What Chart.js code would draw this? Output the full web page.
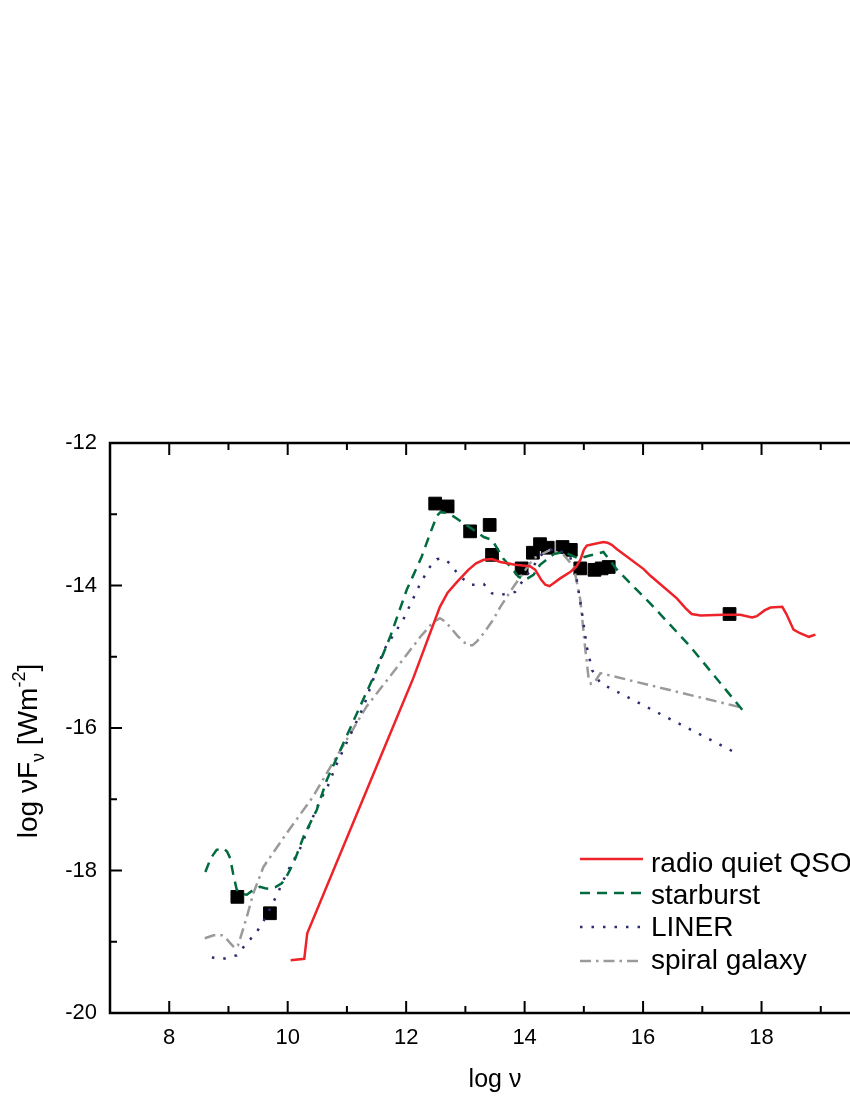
<!DOCTYPE html>
<html>
<head>
<meta charset="utf-8">
<script src="https://cdn.jsdelivr.net/npm/chart.js@4/dist/chart.umd.min.js"></script>
<style>
  html, body { margin: 0; padding: 0; background: #fff; overflow: hidden; }
  #wrap { width: 900px; height: 1100px; }
</style>
</head>
<body>
<div id="wrap"><canvas id="sed" width="900" height="1100"></canvas></div>
<script>
const FONT = "'Liberation Sans', Arial, sans-serif";

// radio quiet QSO
const qsoX = [10.05, 10.28, 10.33, 11.67, 12.12, 12.57, 12.70, 12.86, 13.05, 13.18, 13.31, 13.45, 13.59, 13.84, 14.09, 14.18, 14.28, 14.35, 14.42, 14.50, 14.60, 14.77, 14.87, 14.94, 15.00, 15.05, 15.15, 15.33, 15.40, 15.47, 15.56, 16.01, 16.12, 16.57, 16.72, 16.82, 16.97, 17.36, 17.64, 17.84, 17.92, 18.05, 18.15, 18.35, 18.42, 18.54, 18.65, 18.80, 18.91];
const qsoY = [-19.26, -19.24, -18.88, -16.20, -15.30, -14.30, -14.10, -13.95, -13.78, -13.69, -13.64, -13.63, -13.67, -13.71, -13.73, -13.78, -13.92, -13.99, -14.01, -13.96, -13.90, -13.81, -13.74, -13.64, -13.50, -13.44, -13.42, -13.39, -13.40, -13.43, -13.49, -13.77, -13.86, -14.18, -14.32, -14.40, -14.42, -14.41, -14.41, -14.45, -14.43, -14.35, -14.31, -14.30, -14.40, -14.62, -14.67, -14.72, -14.69];

// starburst
const sbX = [8.61, 8.70, 8.80, 8.92, 8.98, 9.03, 9.08, 9.14, 9.22, 9.31, 9.42, 9.53, 9.62, 9.70, 9.80, 9.90, 9.97, 10.04, 10.13, 10.27, 10.49, 10.66, 11.22, 11.50, 11.73, 12.01, 12.26, 12.40, 12.52, 12.58, 12.66, 12.80, 13.05, 13.31, 13.45, 13.64, 13.90, 14.01, 14.15, 14.26, 14.49, 14.66, 14.91, 15.10, 15.33, 15.56, 16.12, 16.80, 17.70];
const sbY = [-18.02, -17.83, -17.71, -17.69, -17.74, -17.83, -18.05, -18.27, -18.33, -18.34, -18.27, -18.23, -18.25, -18.26, -18.23, -18.18, -18.10, -17.99, -17.83, -17.52, -17.15, -16.73, -15.70, -15.19, -14.72, -14.06, -13.60, -13.28, -13.02, -12.97, -12.98, -13.03, -13.17, -13.32, -13.36, -13.62, -13.88, -13.92, -13.85, -13.71, -13.56, -13.53, -13.62, -13.58, -13.53, -13.78, -14.25, -14.86, -15.77];

// LINER
const linerX = [8.72, 8.91, 9.14, 9.31, 9.48, 9.62, 9.82, 9.98, 10.21, 10.38, 10.55, 10.66, 10.83, 11.28, 11.62, 11.95, 12.24, 12.40, 12.52, 12.62, 12.74, 12.91, 13.11, 13.31, 13.45, 13.61, 13.84, 13.98, 14.12, 14.32, 14.54, 14.77, 14.88, 14.97, 15.05, 15.14, 15.28, 17.59];
const linerY = [-19.22, -19.24, -19.19, -19.02, -18.86, -18.67, -18.34, -18.04, -17.69, -17.34, -17.01, -16.85, -16.50, -15.70, -14.91, -14.48, -13.97, -13.74, -13.63, -13.62, -13.69, -13.88, -13.99, -13.98, -14.11, -14.13, -14.09, -13.92, -13.76, -13.53, -13.48, -13.60, -13.92, -14.39, -14.86, -15.19, -15.37, -16.36];

// spiral galaxy
const spX = [8.60, 8.75, 8.89, 8.96, 9.03, 9.11, 9.16, 9.20, 9.31, 9.42, 9.59, 9.98, 10.43, 10.77, 11.33, 11.90, 12.24, 12.45, 12.57, 12.65, 12.74, 12.87, 12.97, 13.05, 13.12, 13.20, 13.31, 13.47, 13.59, 13.81, 14.15, 14.43, 14.66, 14.83, 14.94, 15.02, 15.08, 15.12, 15.18, 15.28, 17.70];
const spY = [-18.95, -18.91, -18.91, -18.95, -19.02, -19.09, -19.05, -18.95, -18.65, -18.32, -17.95, -17.48, -16.96, -16.48, -15.70, -15.09, -14.72, -14.52, -14.46, -14.50, -14.58, -14.71, -14.79, -14.84, -14.84, -14.78, -14.67, -14.48, -14.30, -14.02, -13.62, -13.50, -13.57, -13.74, -14.20, -14.86, -15.30, -15.38, -15.36, -15.23, -15.72];

// observed points
const obsX = [9.15, 9.70, 12.49, 12.70, 13.08, 13.41, 13.45, 13.95, 14.14, 14.26, 14.39, 14.64, 14.78, 14.94, 15.18, 15.30, 15.42, 17.46];
const obsY = [-18.37, -18.60, -12.85, -12.89, -13.24, -13.15, -13.57, -13.76, -13.54, -13.42, -13.47, -13.46, -13.50, -13.76, -13.78, -13.76, -13.74, -14.40];

const xTickVals = [8, 10, 12, 14, 16, 18];
const yTickVals = [-20, -18, -16, -14, -12];

const pts = (xs, ys) => xs.map((x, i) => ({ x, y: ys[i] }));

// frame, inward ticks, y title and legend
const decor = {
    id: 'decor',
    afterDraw(chart) {
        const { ctx, chartArea: a, scales: { x, y } } = chart;
        ctx.save();
        ctx.strokeStyle = '#000';
        ctx.lineWidth = 2.5;
        ctx.setLineDash([]);
        ctx.strokeRect(a.left, a.top, a.right - a.left, a.bottom - a.top);

        ctx.lineWidth = 2;
        ctx.beginPath();
        for (let v = 8; v < 20; v++) {
            const px = x.getPixelForValue(v);
            const len = v % 2 === 0 ? 12 : 7;
            ctx.moveTo(px, a.bottom); ctx.lineTo(px, a.bottom - len);
            ctx.moveTo(px, a.top); ctx.lineTo(px, a.top + len);
        }
        for (let v = -19; v < -12; v++) {
            const py = y.getPixelForValue(v);
            const len = v % 2 === 0 ? 12 : 7;
            ctx.moveTo(a.left, py); ctx.lineTo(a.left + len, py);
            ctx.moveTo(a.right, py); ctx.lineTo(a.right - len, py);
        }
        ctx.stroke();

        // y axis title with sub/superscript
        const big = `28px ${FONT}`, small = `18px ${FONT}`;
        const parts = [
            { t: 'log \u03BDF', f: big, dy: 0 },
            { t: '\u03BD', f: small, dy: 7 },
            { t: ' [Wm', f: big, dy: 0 },
            { t: '-2', f: small, dy: -12 },
            { t: ']', f: big, dy: 0 }
        ];
        let total = 0;
        parts.forEach(p => { ctx.font = p.f; p.w = ctx.measureText(p.t).width; total += p.w; });
        ctx.translate(37, 751);
        ctx.rotate(-Math.PI / 2);
        ctx.fillStyle = '#000';
        ctx.textBaseline = 'alphabetic';
        ctx.textAlign = 'left';
        let cx = -total / 2;
        parts.forEach(p => { ctx.font = p.f; ctx.fillText(p.t, cx, p.dy); cx += p.w; });
        ctx.setTransform(1, 0, 0, 1, 0, 0);

        // legend
        const rows = chart.data.datasets.filter(d => d.showInLegend);
        ctx.font = `28px ${FONT}`;
        ctx.textBaseline = 'alphabetic';
        rows.forEach((d, i) => {
            const ly = 859 + i * 34;
            ctx.strokeStyle = d.borderColor;
            ctx.lineWidth = d.borderWidth;
            ctx.setLineDash(d.borderDash || []);
            ctx.beginPath();
            ctx.moveTo(580, ly);
            ctx.lineTo(643, ly);
            ctx.stroke();
            ctx.fillStyle = '#000';
            ctx.fillText(d.label, 651, 872 + i * 32.2);
        });
        ctx.restore();
    }
};

const line = (label, xs, ys, color, dash) => ({
    label,
    data: pts(xs, ys),
    borderColor: color,
    borderWidth: 2.5,
    borderDash: dash,
    pointRadius: 0,
    fill: false,
    tension: 0,
    showInLegend: true
});

new Chart(document.getElementById('sed'), {
    type: 'line',
    data: {
        datasets: [
            line('radio quiet QSO', qsoX, qsoY, '#EE2229', []),
            line('starburst', sbX, sbY, '#006B3F', [10, 7]),
            line('LINER', linerX, linerY, '#2C2C6E', [2.5, 9]),
            line('spiral galaxy', spX, spY, '#9A9A9A', [11, 5, 2.5, 5]),
            {
                label: 'data',
                type: 'scatter',
                data: pts(obsX, obsY),
                pointStyle: 'rect',
                pointRadius: 9,
                backgroundColor: '#000',
                borderColor: '#000',
                borderWidth: 1,
                showLine: false,
                showInLegend: false
            }
        ]
    },
    options: {
        responsive: false,
        devicePixelRatio: 1,
        animation: false,
        layout: { padding: { left: 0, top: 443, right: 20, bottom: 0 } },
        plugins: { legend: { display: false }, tooltip: { enabled: false } },
        scales: {
            x: {
                type: 'linear', min: 7, max: 20,
                afterBuildTicks: s => { s.ticks = xTickVals.map(v => ({ value: v })); },
                afterFit: s => { s.height = 87; },
                grid: { display: false, drawTicks: false },
                border: { display: false },
                ticks: { font: { family: FONT, size: 22 }, color: '#000', padding: 12, maxRotation: 0, autoSkip: false },
                title: { display: true, text: 'log \u03BD', font: { family: FONT, size: 25 }, color: '#000', padding: { top: 4, bottom: 5 } }
            },
            y: {
                type: 'linear', min: -20, max: -12,
                afterBuildTicks: s => { s.ticks = yTickVals.map(v => ({ value: v })); },
                afterFit: s => { s.width = 110; },
                grid: { display: false, drawTicks: false },
                border: { display: false },
                ticks: { font: { family: FONT, size: 22 }, color: '#000', padding: 13, autoSkip: false }
            }
        }
    },
    plugins: [decor]
});
</script>
</body>
</html>
